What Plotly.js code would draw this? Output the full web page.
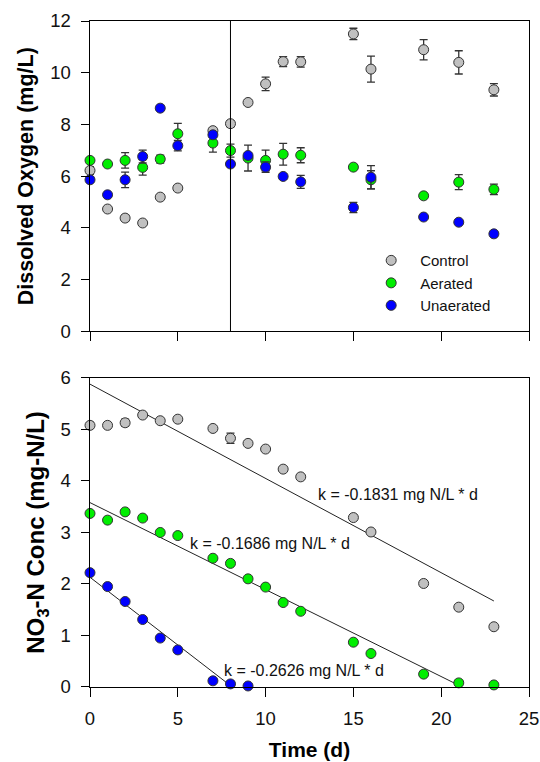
<!DOCTYPE html>
<html>
<head>
<meta charset="utf-8">
<script src="https://cdn.plot.ly/plotly-3.0.1.min.js"></script>
<style>
  html, body { margin: 0; padding: 0; background: #ffffff; }
  #chart { width: 540px; height: 762px; }
</style>
</head>
<body>
<div id="chart"></div>
<script>
// ---- Data ----
const days = [0, 1, 2, 3, 4, 5, 7, 8, 9, 10, 11, 12, 15, 16, 19, 21, 23];

// Dissolved oxygen (mg/L)
const doControl      = [6.22, 4.73, 4.38, 4.19, 5.19, 5.54, 7.76, 8.03, 8.85, 9.57, 10.43, 10.42, 11.50, 10.14, 10.89, 10.40, 9.34];
const doControlErr   = [0.15, 0, 0.12, 0, 0, 0, 0.12, 0.12, 0.1, 0.26, 0.19, 0.2, 0.22, 0.5, 0.39, 0.45, 0.24];
const doAerated      = [6.61, 6.47, 6.61, 6.34, 6.66, 7.64, 7.28, 6.99, 6.70, 6.61, 6.85, 6.81, 6.35, 5.86, 5.24, 5.77, 5.49];
const doAeratedErr   = [0.1, 0, 0.3, 0.3, 0.15, 0.4, 0.35, 0.25, 0.5, 0.4, 0.42, 0.29, 0, 0.35, 0, 0.29, 0.2];
const doUnaerated    = [5.86, 5.28, 5.86, 6.76, 8.63, 7.18, 7.60, 6.47, 6.80, 6.35, 5.99, 5.78, 4.79, 5.96, 4.42, 4.22, 3.77];
const doUnaeratedErr = [0.1, 0, 0.3, 0.25, 0, 0.2, 0.1, 0.1, 0.1, 0.2, 0.1, 0.25, 0.2, 0.45, 0, 0, 0.1];

// NO3-N concentration (mg-N/L)
const noControl     = [5.08, 5.08, 5.13, 5.28, 5.17, 5.20, 5.02, 4.83, 4.73, 4.62, 4.23, 4.08, 3.29, 3.01, 2.01, 1.55, 1.17];
const noControlErr  = [0.06, 0, 0.07, 0, 0, 0, 0, 0.1, 0, 0, 0, 0, 0, 0, 0, 0, 0];
const noAerated     = [3.37, 3.24, 3.40, 3.28, 3.00, 2.94, 2.50, 2.40, 2.10, 1.94, 1.64, 1.47, 0.87, 0.65, 0.25, 0.08, 0.04];
const daysUnaerated = [0, 1, 2, 3, 4, 5, 7, 8, 9];
const noUnaerated   = [2.22, 1.95, 1.66, 1.31, 0.95, 0.72, 0.12, 0.06, 0.02];

// Linear fits (end points)
const fitControlX   = [0, 23];
const fitControlY   = [5.88, 1.67];
const fitAeratedX   = [0, 21.2];
const fitAeratedY   = [3.58, 0];
const fitUnaeratedX = [0, 8.1];
const fitUnaeratedY = [2.13, 0];

const seriesNames = ['Control', 'Aerated', 'Unaerated'];
const fitLabels = ['k = -0.1831 mg N/L * d', 'k = -0.1686 mg N/L * d', 'k = -0.2626 mg N/L * d'];
const fitLabelX = [12.85, 5.6, 7.5];
const fitLabelY = [3.73, 2.79, 0.32];
const xTicks = [0, 5, 10, 15, 20, 25];
const doTicks = [0, 2, 4, 6, 8, 10, 12];
const noTicks = [0, 1, 2, 3, 4, 5, 6];
const aerationEndDay = 8;

// ---- Styling ----
const colors = ['#c0c0c0', '#00ee00', '#0000ff'];
const FONT = 'Arial, "Liberation Sans", Helvetica, sans-serif';

function pts(x, y, err, i, xa, ya, showlegend) {
  const t = {
    type: 'scatter', mode: 'markers', x: x, y: y, name: seriesNames[i],
    xaxis: xa, yaxis: ya, showlegend: showlegend, cliponaxis: false,
    marker: { size: 10, color: colors[i], line: { color: '#333333', width: 1 } }
  };
  if (err) {
    t.error_y = { type: 'data', array: err, visible: true, color: '#333333', thickness: 1.3, width: 4 };
  }
  return t;
}
function fit(x, y) {
  return { type: 'scatter', mode: 'lines', x: x, y: y, xaxis: 'x2', yaxis: 'y2',
           showlegend: false, hoverinfo: 'skip', line: { color: '#222222', width: 1 } };
}

const data = [
  fit(fitControlX, fitControlY),
  fit(fitAeratedX, fitAeratedY),
  fit(fitUnaeratedX, fitUnaeratedY),
  pts(days, doControl, doControlErr, 0, 'x', 'y', true),
  pts(days, doAerated, doAeratedErr, 1, 'x', 'y', true),
  pts(days, doUnaerated, doUnaeratedErr, 2, 'x', 'y', true),
  pts(days, noControl, noControlErr, 0, 'x2', 'y2', false),
  pts(days, noAerated, null, 1, 'x2', 'y2', false),
  pts(daysUnaerated, noUnaerated, null, 2, 'x2', 'y2', false)
];

const tickFont = { family: FONT, size: 18.5, color: '#111111' };
function axBase(range, tickvals) {
  return {
    range: range, tickvals: tickvals, showgrid: false, zeroline: false,
    showline: true, linecolor: '#000000', linewidth: 1, mirror: true,
    ticks: 'outside', ticklen: 8.5, tickwidth: 1, tickcolor: '#000000',
    tickfont: tickFont, ticklabelstandoff: 6, fixedrange: true
  };
}
function axOverlay(range, tickvals, over, anchor) {
  return {
    range: range, tickvals: tickvals, overlaying: over, anchor: anchor,
    showgrid: false, zeroline: false, showline: false, showticklabels: false,
    ticks: 'inside', ticklen: 8.5, tickwidth: 1, tickcolor: '#000000',
    mirror: 'ticks', fixedrange: true
  };
}

const layout = {
  width: 540, height: 762,
  margin: { l: 90, r: 11, t: 21, b: 75 },
  paper_bgcolor: '#ffffff', plot_bgcolor: '#ffffff',
  font: { family: FONT, color: '#111111' },
  showlegend: true,
  legend: {
    x: 0.62, y: 0.665, xref: 'paper', yref: 'paper', xanchor: 'left', yanchor: 'top',
    itemwidth: 48,
    bgcolor: 'rgba(0,0,0,0)', borderwidth: 0,
    font: { family: FONT, size: 15, color: '#111111' }
  },
  xaxis: Object.assign(axBase([0, 25], xTicks), { domain: [0, 1], anchor: 'y', showticklabels: false }),
  yaxis: Object.assign(axBase([0, 12], doTicks), {
    domain: [0.534, 1], anchor: 'x',
    title: { text: '<b>Dissolved Oxygen (mg/L)</b>', font: { family: FONT, size: 21.5, color: '#000000' }, standoff: 10 }
  }),
  xaxis2: Object.assign(axBase([0, 25], xTicks), {
    domain: [0, 1], anchor: 'y2',
    title: { text: '<b>Time (d)</b>', font: { family: FONT, size: 21, color: '#000000' }, standoff: 14 }
  }),
  yaxis2: Object.assign(axBase([0, 6], noTicks), {
    domain: [0, 0.464], anchor: 'x2',
    title: { text: '<b>NO<sub>3</sub>-N Conc (mg-N/L)</b>', font: { family: FONT, size: 24, color: '#000000' }, standoff: 9 }
  }),
  xaxis3: axOverlay([0, 25], xTicks, 'x', 'y'),
  yaxis3: axOverlay([0, 12], doTicks, 'y', 'x'),
  xaxis4: axOverlay([0, 25], xTicks, 'x2', 'y2'),
  yaxis4: axOverlay([0, 6], noTicks, 'y2', 'x2'),
  shapes: [{
    type: 'line', xref: 'x', yref: 'y domain', x0: aerationEndDay, x1: aerationEndDay, y0: 0, y1: 1,
    line: { color: '#000000', width: 1 }
  }],
  annotations: fitLabels.map((t, i) => ({
    text: t, x: fitLabelX[i], y: fitLabelY[i], xref: 'x2', yref: 'y2',
    xanchor: 'left', yanchor: 'middle', showarrow: false,
    font: { family: FONT, size: 16, color: '#111111' }
  }))
};

Plotly.newPlot('chart', data, layout, { displayModeBar: false, staticPlot: true });
</script>
</body>
</html>
